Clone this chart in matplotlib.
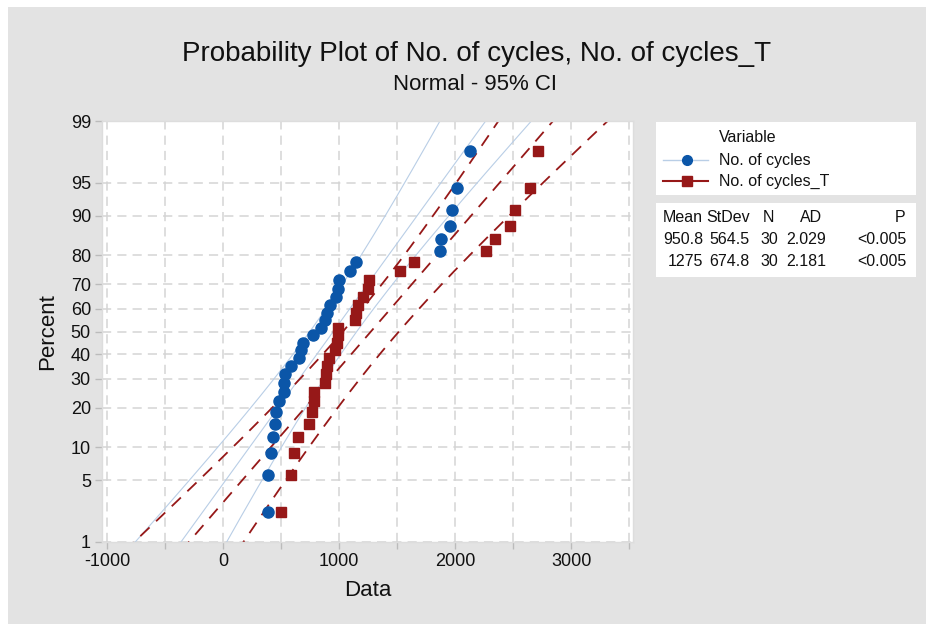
"""
Probability Plot of No. of cycles, No. of cycles_T (Normal - 95% CI)
"""

import numpy as np
import matplotlib
matplotlib.use('Agg')
import matplotlib.pyplot as plt
from matplotlib.lines import Line2D
from matplotlib.patches import Rectangle
from statistics import NormalDist

# data (sorted)
cycles = [388, 388, 417, 435, 447, 459, 486, 522, 522, 531,
          587, 656, 671, 686, 772, 841, 879, 894, 924, 978,
          993, 1004, 1091, 1147, 1872, 1878, 1958, 1973, 2015, 2125]
cycles_t = [503, 589, 616, 643, 741, 771, 783, 783, 881, 887,
            896, 911, 965, 980, 992, 995, 1135, 1149, 1164, 1209,
            1251, 1260, 1528, 1650, 2267, 2341, 2476, 2520, 2645, 2714]

series_names = ['No. of cycles', 'No. of cycles_T']
means = [950.8, 1275]
stdevs = [564.5, 674.8]
ns = [30, 30]
ads = ['2.029', '2.181']
pvals = ['<0.005', '<0.005']
mean_labels = ['950.8', '1275']
sd_labels = ['564.5', '674.8']

pct_ticks = [1, 5, 10, 20, 30, 40, 50, 60, 70, 80, 90, 95, 99]
x_ticks = list(range(-1000, 3501, 500))

BLUE = '#0b56a8'
BLUE_LINE = '#b9cee6'
RED = '#961818'
BG = '#e3e3e3'
TXT = '#111111'

plt.rcParams['font.family'] = ['Liberation Sans', 'DejaVu Sans']

nd = NormalDist()


def z_of(p):
    return nd.inv_cdf(p / 100.0)


W, H = 926, 624
fig = plt.figure(figsize=(W / 100, H / 100), dpi=100, facecolor='white')
fig.patches.append(Rectangle((8 / W, 0), 1, 1 - 7 / H, transform=fig.transFigure,
                             facecolor=BG, edgecolor='none', zorder=-10))

ax = fig.add_axes([102 / W, 1 - 542 / H, 531 / W, 421 / H])
ax.set_facecolor('white')

zmin, zmax = z_of(1), z_of(99)
ax.set_xlim(-1043, 3534)
ax.set_ylim(zmin, zmax)

# grid
for xv in x_ticks:
    ax.axvline(xv, color='#d4d4d4', lw=1.1, ls=(0, (6, 4)), zorder=0)
for pv in pct_ticks:
    ax.axhline(z_of(pv), color='#d4d4d4', lw=1.1, ls=(0, (6, 4)), zorder=0)

# fitted lines and 95% CI
zz = np.linspace(zmin - 0.1, zmax + 0.1, 200)
styles = [dict(color=BLUE_LINE, lw=0.8, ls='-'),
          dict(color=RED, lw=1.3, ls=(0, (7, 5)))]
for mu, sd, n, st in zip(means, stdevs, ns, styles):
    fit = mu + zz * sd
    se = sd * np.sqrt(1.0 / n + zz ** 2 / (2.0 * (n - 1)))
    for line in (fit - 1.96 * se, fit, fit + 1.96 * se):
        ax.plot(line, zz, zorder=2, **st)

# points (median ranks)
for vals, mk, col, ms in [(cycles, 'o', BLUE, 8), (cycles_t, 's', RED, 7.8)]:
    n = len(vals)
    pos = [(i + 1 - 0.3) / (n + 0.4) * 100 for i in range(n)]
    ax.plot(sorted(vals), [z_of(p) for p in pos], mk, color=col, ms=ms, mec=col,
            ls='none', zorder=3)

ax.set_yticks([z_of(p) for p in pct_ticks])
ax.set_yticklabels([str(p) for p in pct_ticks])
ax.set_xticks(x_ticks)
ax.set_xticklabels([str(v) if v % 1000 == 0 else '' for v in x_ticks])
ax.tick_params(axis='both', colors='#bbbbbb', labelcolor=TXT, labelsize=13,
               length=5, width=1, pad=3)
for side in ['top', 'right', 'left', 'bottom']:
    ax.spines[side].set_color('#dddddd')
    ax.spines[side].set_linewidth(1)

ax.set_xlabel('Data', fontsize=16, color=TXT, labelpad=7)
ax.set_ylabel('Percent', fontsize=16, color=TXT, labelpad=9)

# titles
fig.text(477 / W, 1 - 61 / H, 'Probability Plot of No. of cycles, No. of cycles_T',
         ha='center', va='baseline', fontsize=20, color=TXT)
fig.text(475 / W, 1 - 90 / H, 'Normal - 95% CI', ha='center', va='baseline',
         fontsize=16, color=TXT)

# legend box
fig.patches.append(Rectangle((656 / W, 1 - 195 / H), 260 / W, 73 / H,
                             transform=fig.transFigure, facecolor='white',
                             edgecolor='none', zorder=1))
fig.text(719 / W, 1 - 138 / H, 'Variable', ha='left', va='center', fontsize=11.5, color=TXT)
leg_y = [160, 181]
leg_lines = [dict(color=BLUE_LINE, lw=1, ls='-'), dict(color=RED, lw=1.5, ls='-')]
for name, yy, mk, col, st in zip(series_names, leg_y, ['o', 's'], [BLUE, RED], leg_lines):
    fig.add_artist(Line2D([663 / W, 708 / W], [1 - yy / H] * 2, transform=fig.transFigure, **st))
    fig.add_artist(Line2D([687 / W], [1 - yy / H], transform=fig.transFigure, marker=mk,
                          color=col, ms=7, ls='none'))
    fig.text(719 / W, 1 - yy / H, name, ha='left', va='center', fontsize=11.5, color=TXT)

# stats table
fig.patches.append(Rectangle((656 / W, 1 - 277 / H), 260 / W, 74 / H,
                             transform=fig.transFigure, facecolor='white',
                             edgecolor='none', zorder=1))
head_right = [703, 750, 774, 822, 905]
val_right = [703, 750, 778, 826, 906]
headers = ['Mean', 'StDev', 'N', 'AD', 'P']
for xr, h in zip(head_right, headers):
    fig.text(xr / W, 1 - 218 / H, h, ha='right', va='center', fontsize=11.5, color=TXT)
for row, yy in enumerate([240, 261]):
    cells = [mean_labels[row], sd_labels[row], str(ns[row]), ads[row], pvals[row]]
    for xr, c in zip(val_right, cells):
        fig.text(xr / W, 1 - yy / H, c, ha='right', va='center', fontsize=11.5, color=TXT)

fig.savefig('out.png', dpi=100, facecolor=fig.get_facecolor())
